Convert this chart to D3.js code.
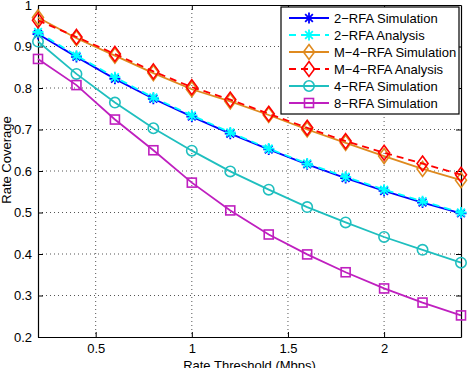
<!DOCTYPE html>
<html>
<head>
<meta charset="utf-8">
<script src="https://cdn.jsdelivr.net/npm/d3@7"></script>
<style>
  body { margin: 0; background: #fff; }
  svg { display: block; font-family: "Liberation Sans", Arial, sans-serif; }
</style>
</head>
<body>
<div id="chart"></div>
<script>
// rate thresholds (Mbps)
const thresholds = [0.2, 0.4, 0.6, 0.8, 1.0, 1.2, 1.4, 1.6, 1.8, 2.0, 2.2, 2.4];

const rfa2Sim = [0.930, 0.875, 0.822, 0.774, 0.731, 0.690, 0.652, 0.616, 0.583, 0.552, 0.524, 0.498];
const rfa2Ana = [0.935, 0.878, 0.826, 0.777, 0.734, 0.693, 0.654, 0.618, 0.586, 0.555, 0.527, 0.500];
const m4Sim   = [0.970, 0.920, 0.878, 0.836, 0.797, 0.768, 0.735, 0.700, 0.668, 0.636, 0.605, 0.578];
const m4Ana   = [0.963, 0.923, 0.882, 0.840, 0.802, 0.772, 0.738, 0.704, 0.672, 0.644, 0.618, 0.591];
const rfa4Sim = [0.912, 0.834, 0.765, 0.703, 0.649, 0.599, 0.555, 0.513, 0.476, 0.441, 0.410, 0.379];
const rfa8Sim = [0.870, 0.807, 0.724, 0.650, 0.572, 0.505, 0.447, 0.399, 0.356, 0.317, 0.283, 0.252];

const xTicks = [0.5, 1, 1.5, 2];
const yTicks = [0.2, 0.3, 0.4, 0.5, 0.6, 0.7, 0.8, 0.9, 1];

const seriesList = [
  { name: "2\u2212RFA Simulation", values: rfa2Sim, color: "#0000ff", dash: null, marker: "star" },
  { name: "2\u2212RFA Analysis", values: rfa2Ana, color: "#00ffff", dash: "7,5", marker: "star" },
  { name: "M\u22124\u2212RFA Simulation", values: m4Sim, color: "#df8a1f", dash: null, marker: "diamond" },
  { name: "M\u22124\u2212RFA Analysis", values: m4Ana, color: "#ff0000", dash: "7,5", marker: "diamond" },
  { name: "4\u2212RFA Simulation", values: rfa4Sim, color: "#1fbfbf", dash: null, marker: "circle" },
  { name: "8\u2212RFA Simulation", values: rfa8Sim, color: "#bf1fbf", dash: null, marker: "square" }
];

const W = 468, H = 368;
const margin = { top: 5, right: 7, bottom: 31, left: 38 };

const svg = d3.select("#chart").append("svg")
  .attr("width", W)
  .attr("height", H);

const x = d3.scaleLinear().domain([0.2, 2.4]).range([margin.left, W - margin.right]);
const y = d3.scaleLinear().domain([0.2, 1]).range([H - margin.bottom, margin.top]);

// dotted grid
svg.append("g").selectAll("line")
  .data(xTicks).enter().append("line")
  .attr("x1", d => x(d)).attr("x2", d => x(d))
  .attr("y1", y(1)).attr("y2", y(0.2))
  .attr("stroke", "#555").attr("stroke-width", 1)
  .attr("stroke-dasharray", "1,3");
svg.append("g").selectAll("line")
  .data(yTicks.slice(1, -1)).enter().append("line")
  .attr("x1", x(0.2)).attr("x2", x(2.4))
  .attr("y1", d => y(d)).attr("y2", d => y(d))
  .attr("stroke", "#555").attr("stroke-width", 1)
  .attr("stroke-dasharray", "1,3");

// axes with inward ticks
const xAxis = svg.append("g")
  .attr("transform", `translate(0,${y(0.2)})`)
  .call(d3.axisBottom(x).tickValues(xTicks).tickFormat(d3.format("")).tickSizeInner(-5).tickSizeOuter(0).tickPadding(7));
const xAxisTop = svg.append("g")
  .attr("transform", `translate(0,${y(1)})`)
  .call(d3.axisTop(x).tickValues(xTicks).tickFormat("").tickSizeInner(-5).tickSizeOuter(0));
const yAxis = svg.append("g")
  .attr("transform", `translate(${x(0.2)},0)`)
  .call(d3.axisLeft(y).tickValues(yTicks).tickFormat(d3.format("")).tickSizeInner(-5).tickSizeOuter(0).tickPadding(6));
const yAxisRight = svg.append("g")
  .attr("transform", `translate(${x(2.4)},0)`)
  .call(d3.axisRight(y).tickValues(yTicks).tickFormat("").tickSizeInner(-5).tickSizeOuter(0));

[xAxis, xAxisTop, yAxis, yAxisRight].forEach(g => {
  g.selectAll("path").attr("stroke", "#000").attr("stroke-width", 1.2);
  g.selectAll("line").attr("stroke", "#000");
  g.selectAll("text").attr("font-size", 13).attr("fill", "#000")
    .attr("font-family", "'Liberation Sans', Arial, sans-serif");
});

// axis titles
svg.append("text")
  .attr("x", (x(0.2) + x(2.4)) / 2)
  .attr("y", 370)
  .attr("text-anchor", "middle")
  .attr("font-size", 13)
  .text("Rate Threshold (Mbps)");

svg.append("text")
  .attr("transform", "rotate(-90)")
  .attr("x", -160)
  .attr("y", 11)
  .attr("text-anchor", "middle")
  .attr("font-size", 13)
  .text("Rate Coverage");

// marker drawing
function drawMarker(g, type, color) {
  if (type === "star") {
    const r = 5.5;
    g.append("path")
      .attr("d", `M${-r},0H${r}M0,${-r}V${r}M${-r*0.7},${-r*0.7}L${r*0.7},${r*0.7}M${-r*0.7},${r*0.7}L${r*0.7},${-r*0.7}`)
      .attr("stroke", color).attr("stroke-width", 1.8).attr("fill", "none");
  } else if (type === "diamond") {
    g.append("path")
      .attr("d", "M0,-7.5L5.5,0L0,7.5L-5.5,0Z")
      .attr("stroke", color).attr("stroke-width", 1.6).attr("fill", "none");
  } else if (type === "circle") {
    g.append("circle").attr("r", 5.2)
      .attr("stroke", color).attr("stroke-width", 1.6).attr("fill", "none");
  } else if (type === "square") {
    g.append("rect").attr("x", -4.5).attr("y", -4.5).attr("width", 9).attr("height", 9)
      .attr("stroke", color).attr("stroke-width", 1.6).attr("fill", "none");
  }
}

const line = d3.line()
  .x(d => x(d[0]))
  .y(d => y(d[1]));

const plot = svg.append("g");
seriesList.forEach(s => {
  const pts = thresholds.map((t, i) => [t, s.values[i]]);
  plot.append("path")
    .datum(pts)
    .attr("fill", "none")
    .attr("stroke", s.color)
    .attr("stroke-width", 1.8)
    .attr("stroke-dasharray", s.dash)
    .attr("d", line);
  pts.forEach(p => {
    const g = plot.append("g").attr("transform", `translate(${x(p[0])},${y(p[1])})`);
    drawMarker(g, s.marker, s.color);
  });
});

// legend
const lx = 281, ly = 7, lw = 178, lh = 107;
const legend = svg.append("g");
legend.append("rect")
  .attr("x", lx).attr("y", ly).attr("width", lw).attr("height", lh)
  .attr("fill", "#fff").attr("stroke", "#000").attr("stroke-width", 1.2);

seriesList.forEach((s, i) => {
  const cy = ly + 11 + i * 17;
  legend.append("line")
    .attr("x1", lx + 8).attr("x2", lx + 48)
    .attr("y1", cy).attr("y2", cy)
    .attr("stroke", s.color).attr("stroke-width", 1.8)
    .attr("stroke-dasharray", s.dash);
  const g = legend.append("g").attr("transform", `translate(${lx + 28},${cy})`);
  drawMarker(g, s.marker, s.color);
  legend.append("text")
    .attr("x", lx + 53).attr("y", cy + 4.5)
    .attr("font-size", 13)
    .text(s.name);
});
</script>
</body>
</html>
